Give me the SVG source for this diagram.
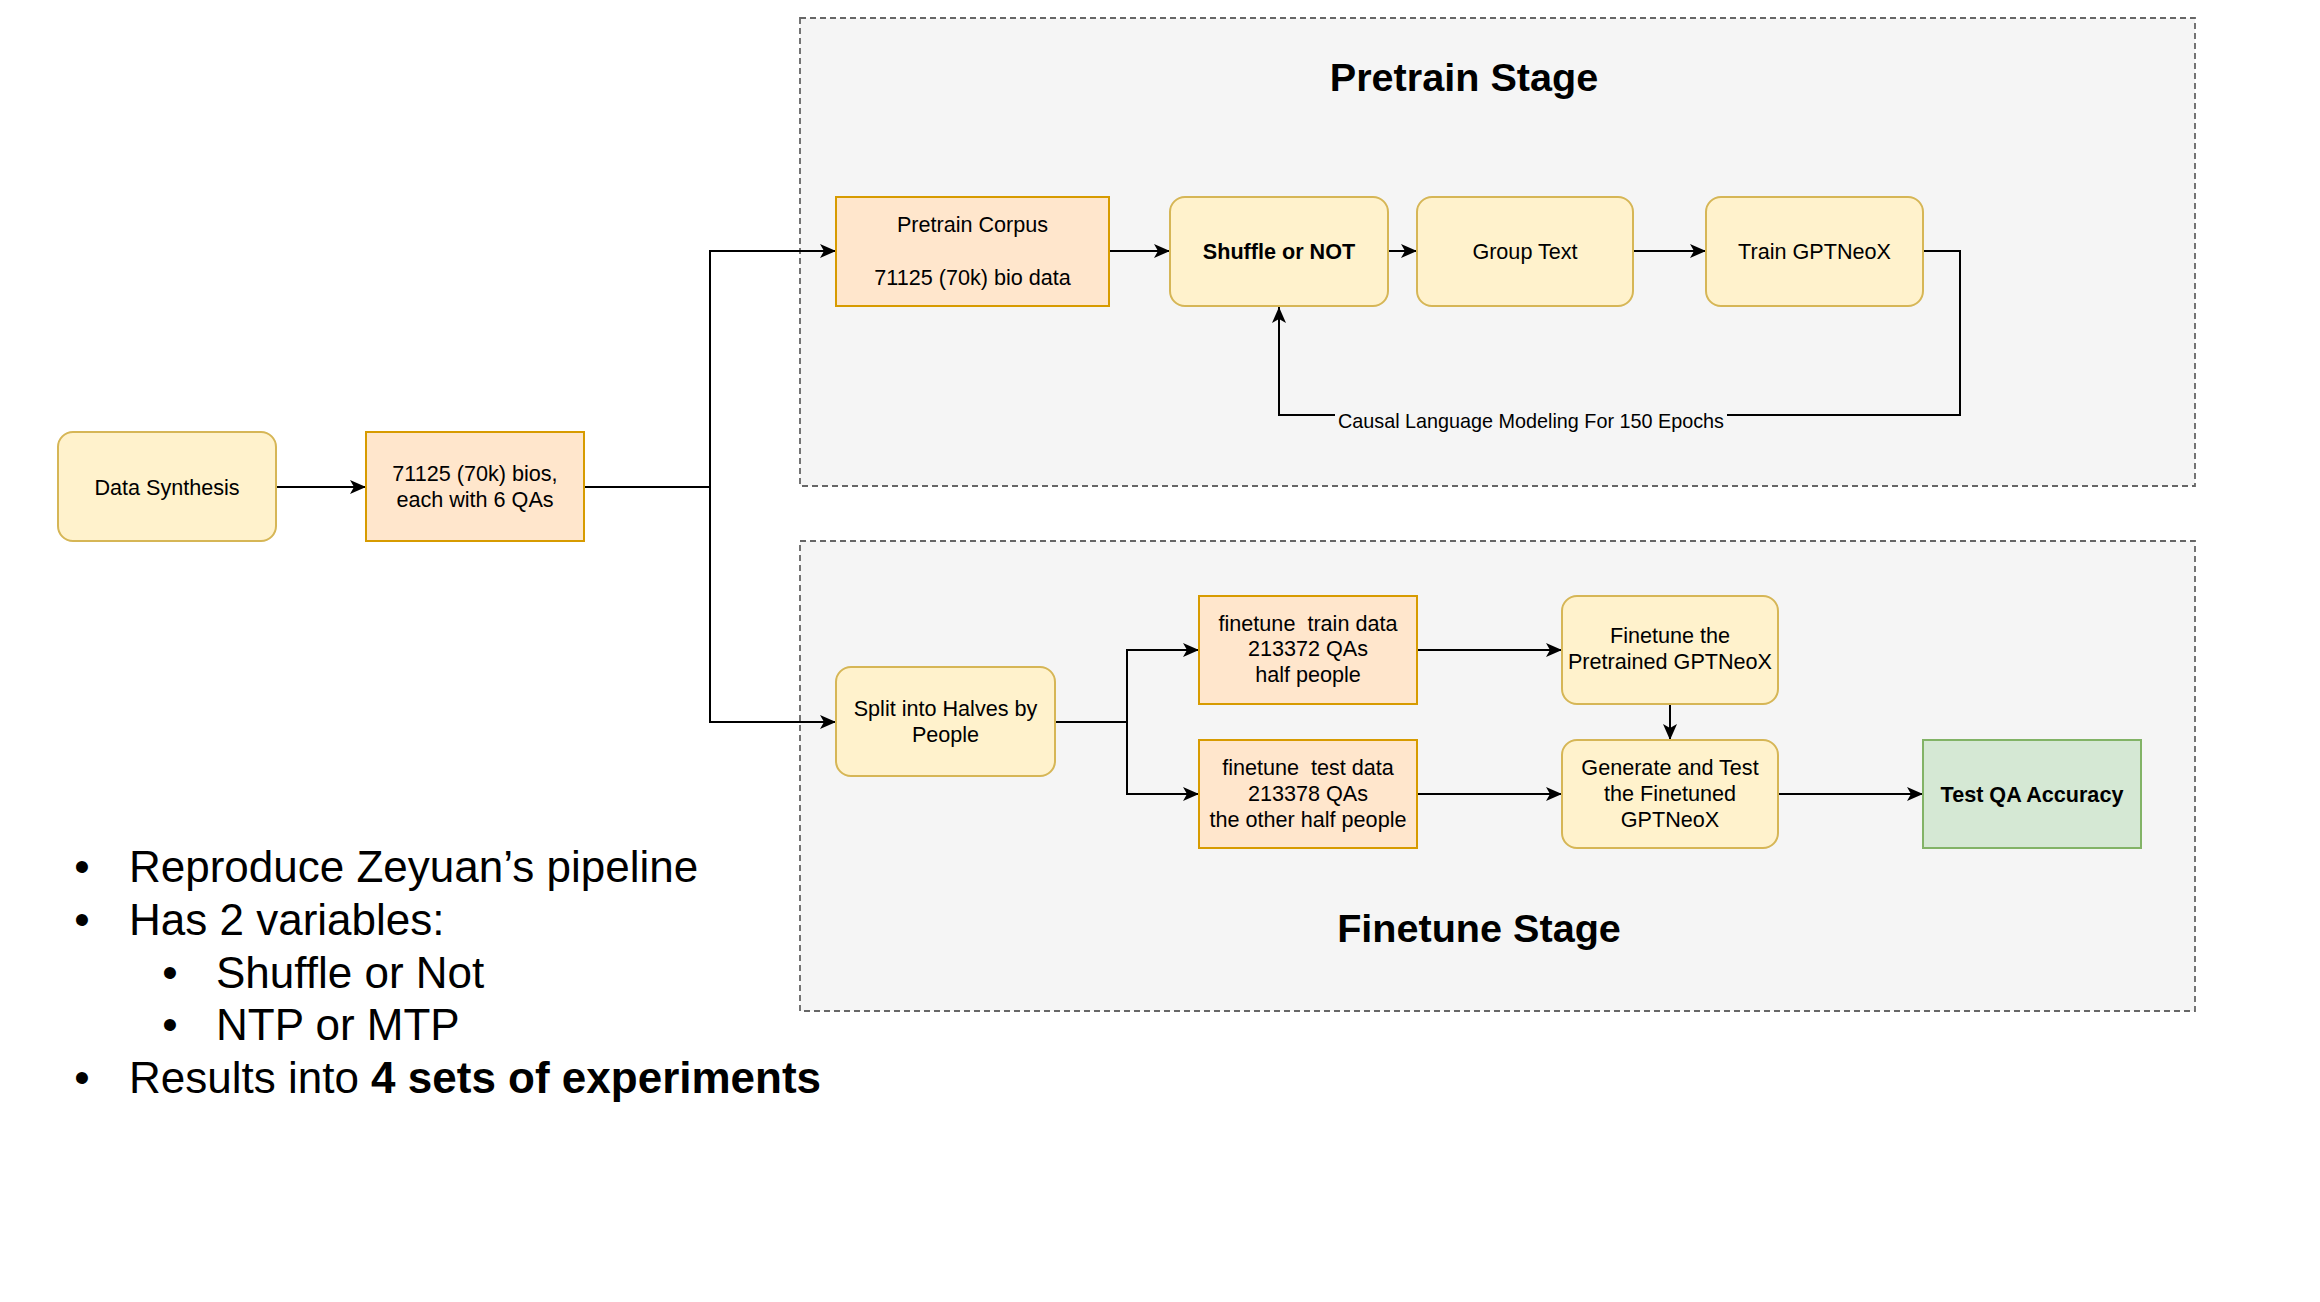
<svg xmlns="http://www.w3.org/2000/svg" width="2320" height="1302" viewBox="0 0 2320 1302">
<defs>
<marker id="arr" markerUnits="userSpaceOnUse" markerWidth="17" markerHeight="15" refX="16" refY="7" orient="auto">
<path d="M0,0 L16,7 L0,14 L4,7 z" fill="#000"/>
</marker>
<style>
.cont{fill:#f5f5f5;stroke:#666666;stroke-width:1.8;stroke-dasharray:6 4}
.y{fill:#fff2cc;stroke:#d6b656;stroke-width:2}
.o{fill:#ffe6cc;stroke:#d79b00;stroke-width:2}
.g{fill:#d5e8d4;stroke:#82b366;stroke-width:2}
.t{font-family:"Liberation Sans",Arial,Helvetica,sans-serif;font-size:21.6px;fill:#000;text-anchor:middle}
.b{font-weight:bold}
.title{font-family:"Liberation Sans",Arial,Helvetica,sans-serif;font-size:39.6px;font-weight:bold;fill:#000;text-anchor:middle}
.lbl{font-family:"Liberation Sans",Arial,Helvetica,sans-serif;font-size:19.8px;fill:#000;text-anchor:middle}
.bul{font-family:"Liberation Sans",Arial,Helvetica,sans-serif;font-size:44px;fill:#000}
.e{fill:none;stroke:#000;stroke-width:2}
</style>
</defs>
<rect width="2320" height="1302" fill="#ffffff"/>

<g id="pretrain-stage">
<rect class="cont" x="800" y="18" width="1395" height="468"/>
<text class="title" x="1464" y="91">Pretrain Stage</text>
</g>
<g id="finetune-stage">
<rect class="cont" x="800" y="541" width="1395" height="470"/>
<text class="title" x="1479" y="942">Finetune Stage</text>
</g>

<g id="connectors">
<path class="e" d="M276,487 H366" marker-end="url(#arr)"/>
<path class="e" d="M584,487 H710 V251 H836" marker-end="url(#arr)"/>
<path class="e" d="M710,487 V722 H836" marker-end="url(#arr)"/>
<path class="e" d="M1109,251 H1170" marker-end="url(#arr)"/>
<path class="e" d="M1388,251 H1417" marker-end="url(#arr)"/>
<path class="e" d="M1633,251 H1706" marker-end="url(#arr)"/>
<path class="e" d="M1923,251 H1960 V415 H1279 V307" marker-end="url(#arr)"/>
<rect x="1335" y="404" width="392" height="28" fill="#f5f5f5"/>
<text class="lbl" x="1531" y="428">Causal Language Modeling For 150 Epochs</text>
<path class="e" d="M1055,722 H1127 V650 H1199" marker-end="url(#arr)"/>
<path class="e" d="M1127,722 V794 H1199" marker-end="url(#arr)"/>
<path class="e" d="M1417,650 H1562" marker-end="url(#arr)"/>
<path class="e" d="M1417,794 H1562" marker-end="url(#arr)"/>
<path class="e" d="M1670,704 V740" marker-end="url(#arr)"/>
<path class="e" d="M1778,794 H1923" marker-end="url(#arr)"/>
</g>

<g id="data-synthesis">
<rect class="y" x="58" y="432" width="218" height="109" rx="15"/>
<text class="t" x="167" y="494.5">Data Synthesis</text>
</g>
<g id="bios">
<rect class="o" x="366" y="432" width="218" height="109"/>
<text class="t" x="475" y="481">71125 (70k) bios,</text>
<text class="t" x="475" y="507">each with 6 QAs</text>
</g>
<g id="pretrain-corpus">
<rect class="o" x="836" y="197" width="273" height="109"/>
<text class="t" x="972.5" y="232">Pretrain Corpus</text>
<text class="t" x="972.5" y="285">71125 (70k) bio data</text>
</g>
<g id="shuffle">
<rect class="y" x="1170" y="197" width="218" height="109" rx="15"/>
<text class="t b" x="1279" y="258.5">Shuffle or NOT</text>
</g>
<g id="group-text">
<rect class="y" x="1417" y="197" width="216" height="109" rx="15"/>
<text class="t" x="1525" y="258.5">Group Text</text>
</g>
<g id="train-gptneox">
<rect class="y" x="1706" y="197" width="217" height="109" rx="15"/>
<text class="t" x="1814.5" y="258.5">Train GPTNeoX</text>
</g>
<g id="split">
<rect class="y" x="836" y="667" width="219" height="109" rx="15"/>
<text class="t" x="945.5" y="716">Split into Halves by</text>
<text class="t" x="945.5" y="742">People</text>
</g>
<g id="train-data">
<rect class="o" x="1199" y="596" width="218" height="108"/>
<text class="t" x="1308" y="631" xml:space="preserve">finetune  train data</text>
<text class="t" x="1308" y="656">213372 QAs</text>
<text class="t" x="1308" y="682">half people</text>
</g>
<g id="test-data">
<rect class="o" x="1199" y="740" width="218" height="108"/>
<text class="t" x="1308" y="775" xml:space="preserve">finetune  test data</text>
<text class="t" x="1308" y="801">213378 QAs</text>
<text class="t" x="1308" y="827">the other half people</text>
</g>
<g id="finetune-pretrained">
<rect class="y" x="1562" y="596" width="216" height="108" rx="15"/>
<text class="t" x="1670" y="643">Finetune the</text>
<text class="t" x="1670" y="669">Pretrained GPTNeoX</text>
</g>
<g id="generate-test">
<rect class="y" x="1562" y="740" width="216" height="108" rx="15"/>
<text class="t" x="1670" y="775">Generate and Test</text>
<text class="t" x="1670" y="801">the Finetuned</text>
<text class="t" x="1670" y="827">GPTNeoX</text>
</g>
<g id="test-qa">
<rect class="g" x="1923" y="740" width="218" height="108"/>
<text class="t b" x="2032" y="801.5">Test QA Accuracy</text>
</g>

<g id="bullets">
<text class="bul" x="82" y="882" text-anchor="middle">•</text>
<text class="bul" x="129" y="882">Reproduce Zeyuan’s pipeline</text>
<text class="bul" x="82" y="935" text-anchor="middle">•</text>
<text class="bul" x="129" y="935">Has 2 variables:</text>
<text class="bul" x="170" y="988" text-anchor="middle">•</text>
<text class="bul" x="216" y="988">Shuffle or Not</text>
<text class="bul" x="170" y="1040" text-anchor="middle">•</text>
<text class="bul" x="216" y="1040">NTP or MTP</text>
<text class="bul" x="82" y="1093" text-anchor="middle">•</text>
<text class="bul" x="129" y="1093">Results into <tspan font-weight="bold">4 sets of experiments</tspan></text>
</g>
</svg>
